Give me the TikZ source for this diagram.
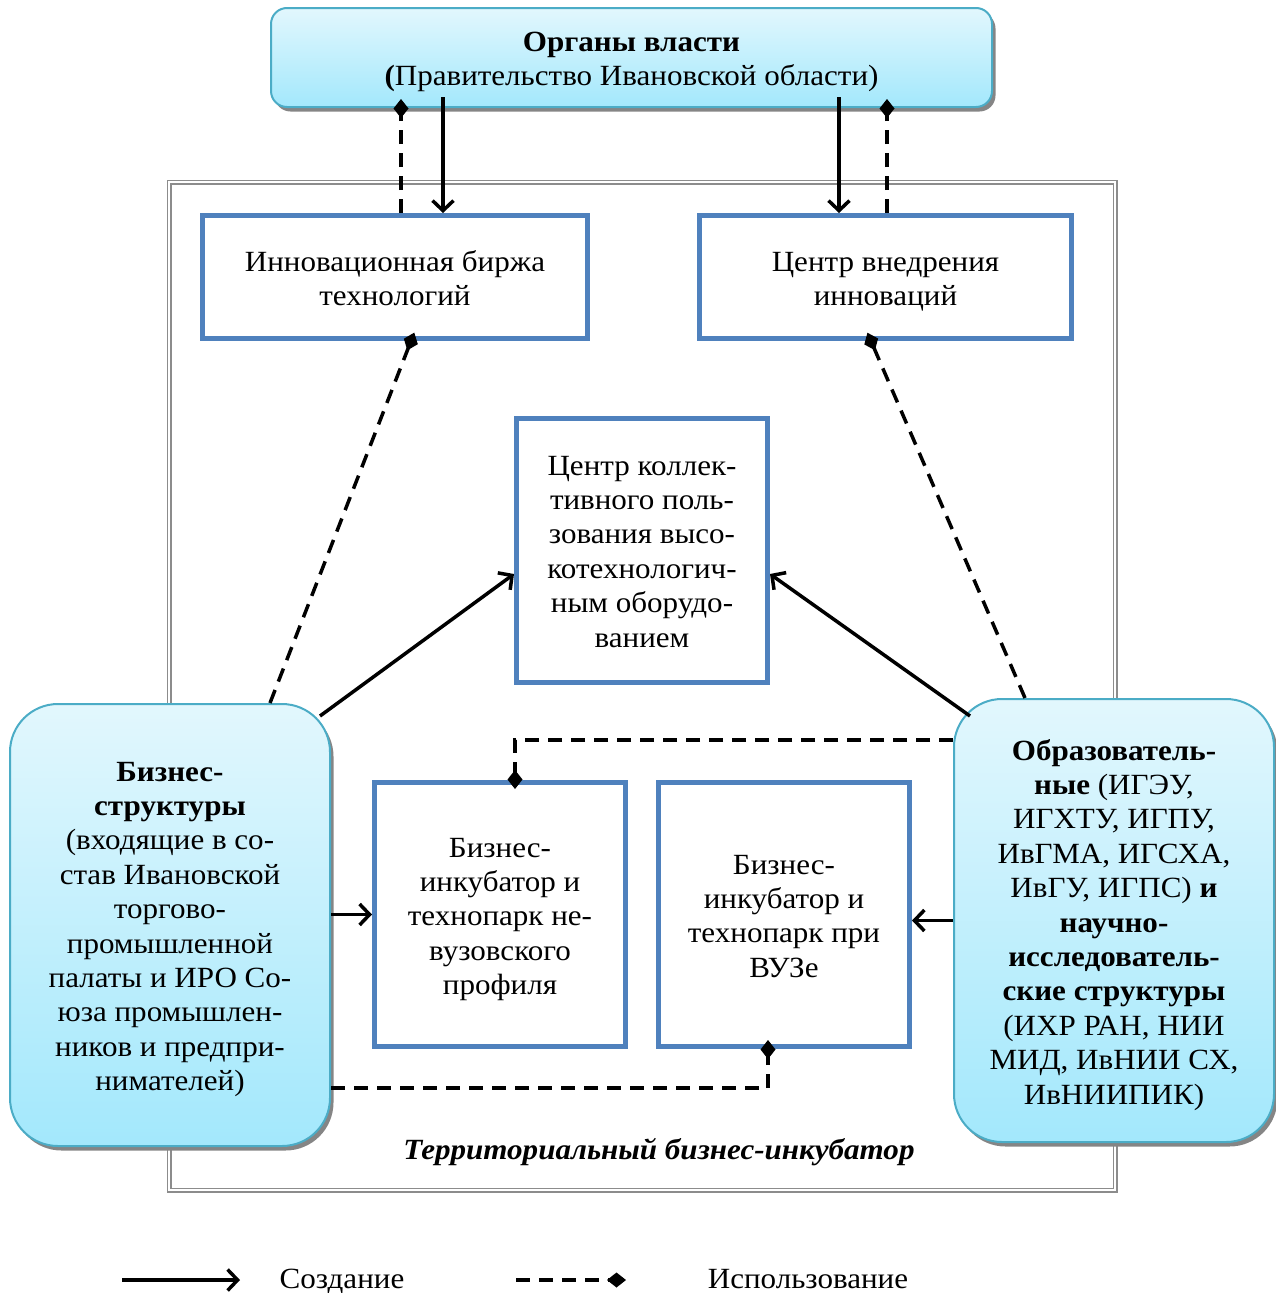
\documentclass[tikz,border=0pt]{standalone}
\usepackage{fontspec}
\setmainfont{Liberation Serif}[FakeStretch=1.06]
\usetikzlibrary{arrows.meta,shadows,calc}
\definecolor{boxblue}{HTML}{4F81BD}
\definecolor{tealb}{HTML}{4BACC6}
\definecolor{ctop}{HTML}{E2F7FD}
\definecolor{cbot}{HTML}{A3E8FC}
\definecolor{framegray}{HTML}{8C8C8C}
\newcommand\lines[1]{\begin{tabular}[t]{@{}c@{}}#1\end{tabular}}
\begin{document}
\begin{tikzpicture}[x=1pt,y=-1pt,
  txt/.style={font=\fontsize{29.3}{34.4}\selectfont, text=black, inner sep=0pt, anchor=base},
  bluebox/.style={rectangle, draw=boxblue, line width=5pt, fill=white, inner sep=0pt},
  cloudbox/.style={rectangle, draw=tealb, line width=2pt, top color=ctop, bottom color=cbot,
     inner sep=0pt, drop shadow={shadow xshift=3.5pt, shadow yshift=-4.5pt, fill=black!48, opacity=1}},
  creates/.style={draw=black, line width=3.5pt, -{Straight Barb[length=10pt,width=21pt]}},
  uses/.style={draw=black, line width=3.5pt, dash pattern=on 14pt off 9pt, shorten >=-9pt,
     -{Diamond[length=19pt,width=15pt]}},
]
\useasboundingbox (0,0) rectangle (1276,1293);

% outer frame
\draw[framegray, line width=1.5pt, double=white, double distance=2pt] (169,182) rectangle (1115,1190);

% top authority box
\node[cloudbox, rounded corners=16pt, minimum width=721pt, minimum height=99pt] (top) at (631.5,57.5) {};
\node[txt] (topt) at (631.5,51)
  {\lines{\textbf{Органы власти}\\\textbf{(}Правительство Ивановской области)}};

% blue boxes
\node[bluebox, minimum width=385pt, minimum height=123pt] (b1) at (395,277) {};
\node[txt] (b1t) at (395,271) {\lines{Инновационная биржа\\технологий}};
\node[bluebox, minimum width=372pt, minimum height=123pt] (b2) at (885.5,277) {};
\node[txt] (b2t) at (885.5,271) {\lines{Центр внедрения\\инноваций}};
\node[bluebox, minimum width=251pt, minimum height=264pt] (cb) at (642,550.5) {};
\node[txt] (cbt) at (642,475)
  {\lines{Центр коллек-\\тивного поль-\\зования высо-\\котехнологич-\\ным оборудо-\\ванием}};
\node[bluebox, minimum width=251pt, minimum height=264pt] (b3) at (500,914.5) {};
\node[txt] (b3t) at (500,857)
  {\lines{Бизнес-\\инкубатор и\\технопарк не-\\вузовского\\профиля}};
\node[bluebox, minimum width=251pt, minimum height=264pt] (b4) at (784,914.5) {};
\node[txt] (b4t) at (784,874)
  {\lines{Бизнес-\\инкубатор и\\технопарк при\\ВУЗе}};

% side rounded boxes
\node[cloudbox, rounded corners=48pt, minimum width=320pt, minimum height=442pt] (lb) at (170,925) {};
\node[txt] (lbt) at (170,781)
  {\lines{\textbf{Бизнес-}\\\textbf{структуры}\\(входящие в со-\\став Ивановской\\торгово-\\промышленной\\палаты и ИРО Со-\\юза промышлен-\\ников и предпри-\\нимателей)}};
\node[cloudbox, rounded corners=48pt, minimum width=320pt, minimum height=443pt] (rb) at (1114,920.5) {};
\node[txt] (rbt) at (1114,760)
  {\lines{\textbf{Образователь-}\\\textbf{ные} (ИГЭУ,\\ИГХТУ, ИГПУ,\\ИвГМА, ИГСХА,\\ИвГУ, ИГПС) \textbf{и}\\\textbf{научно-}\\\textbf{исследователь-}\\\textbf{ские структуры}\\(ИХР РАН, НИИ\\МИД, ИвНИИ СХ,\\ИвНИИПИК)}};

% frame caption
\node[txt, font=\fontsize{29.3}{34.4}\selectfont\bfseries\itshape] (cap) at (659,1159) {Территориальный бизнес-инкубатор};

% connectors: authorities
\draw[uses] ([xshift=6pt]b1.north) -- ([xshift=6pt]b1.north |- top.south);
\draw[creates] ([xshift=48pt,yshift=11pt]b1.north |- top.south) -- ([xshift=48pt]b1.north);
\draw[creates] ([xshift=-46.5pt,yshift=11pt]b2.north |- top.south) -- ([xshift=-46.5pt]b2.north);
\draw[uses] ([xshift=1.5pt]b2.north) -- ([xshift=1.5pt]b2.north |- top.south);

% usage of exchange / center
\draw[uses] ([xshift=100pt]lb.north) -- ([xshift=16pt]b1.south);
\draw[uses] ([xshift=-89pt]rb.north) -- ([xshift=-14.5pt]b2.south);

% creation of the collective use centre
\draw[creates] ([xshift=-11pt,yshift=-13pt]lb.north east) -- ([yshift=-23.5pt]cb.west);
\draw[creates] ([xshift=17pt,yshift=-18pt]rb.north west) -- ([yshift=-23.5pt]cb.east);

% incubators
\draw[uses] ([yshift=180.5pt]rb.west) -| ([xshift=15pt]b3.north);
\draw[creates] (b3.west -| lb.east) -- (b3.west);
\draw[creates] (rb.west) -- (rb.west -| b4.east);
\draw[uses] ([yshift=-163pt]lb.east) -| ([xshift=-16pt]b4.south);

% legend
\coordinate (la1) at (122,1280);
\coordinate (la2) at (240,1280);
\coordinate (ld1) at (516,1280);
\coordinate (ld2) at (617,1280);
\draw[creates] (la1) -- (la2);
\draw[uses] (ld1) -- (ld2);
\node[txt] (lt1) at (342,1288) {Создание};
\node[txt] (lt2) at (808,1288) {Использование};
\end{tikzpicture}
\end{document}
